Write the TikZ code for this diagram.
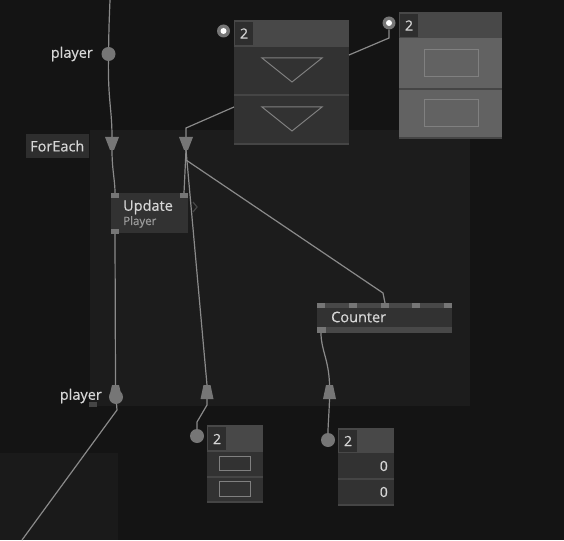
\documentclass[tikz,border=0pt]{standalone}
\usepackage{fontspec}
\setmainfont{Open Sans}[FakeBold=0.5]
\definecolor{bg}{HTML}{141414}
\definecolor{region}{HTML}{1C1C1C}
\definecolor{regionb}{HTML}{1A1A1A}
\definecolor{wire}{HTML}{8A8A8A}
\definecolor{portc}{HTML}{767676}
\definecolor{body}{HTML}{323232}
\definecolor{header}{HTML}{484848}
\definecolor{idx}{HTML}{2E2E2E}
\definecolor{sep}{HTML}{454545}
\definecolor{lightrow}{HTML}{626262}
\definecolor{outl}{HTML}{808080}
\definecolor{txt}{HTML}{D6D6D6}
\definecolor{subtxt}{HTML}{9A9A9A}
\tikzset{
  wireln/.style={draw=wire, line width=1.2pt},
  pin/.style={circle, fill=portc, minimum size=14pt, inner sep=0pt},
  ring/.style={circle, fill=portc, minimum size=13pt, inner sep=0pt},
  lbl/.style={text=txt, font=\fontsize{14.5}{16}\selectfont, inner sep=0pt},
  numlbl/.style={text=txt, font=\fontsize{14}{16}\selectfont, inner sep=0pt},
  boxnode/.style={fill=body, inner sep=0pt, anchor=north west},
  sq/.style={fill=portc},
}
\begin{document}
\begin{tikzpicture}[x=1pt,y=-1pt]
\useasboundingbox (0,0) rectangle (564,540);
\fill[bg] (0,0) rectangle (564,540);
% regions
\fill[region] (90,130) rectangle (470,406);
\fill[regionb] (0,453) rectangle (118,540);

% ---------- top array (triangles) ----------
\node[boxnode, minimum width=115pt, minimum height=125pt] (arrA) at (234,20) {};
\fill[header] (234,20) rectangle (349,47);
\fill[idx] (235,22) rectangle (253,45);
\node[numlbl] at (244,33.5) {2};
\fill[sep] (234,94) rectangle (349,96);
\fill[sep] (234,143) rectangle (349,145);
\draw[outl, line width=1pt] (262,58) -- (322,58) -- (292,82) -- cycle;
\draw[outl, line width=1pt] (262,107) -- (322,107) -- (292,131) -- cycle;
\node[ring] (ringA) at (223.5,31) {};
\fill[white] (ringA) circle (3pt);

% ---------- right array (rectangles) ----------
\node[boxnode, fill=lightrow, minimum width=103pt, minimum height=127pt] (arrB) at (399,12) {};
\fill[header] (399,12) rectangle (502,38);
\fill[idx] (400,14) rectangle (418,37);
\node[numlbl] at (409,25.5) {2};
\fill[sep] (399,88) rectangle (502,90);
\fill[sep] (399,137) rectangle (502,139);
\draw[outl, line width=1pt] (424,50) rectangle (478,77);
\draw[outl, line width=1pt] (424,100) rectangle (478,127);
\node[ring] (ringB) at (389,23) {};
\fill[white] (ringB) circle (3pt);

% ---------- ForEach label ----------
\node[fill=idx, minimum width=63pt, minimum height=24pt, inner sep=0pt, anchor=north west] (fe) at (26,134) {};
\node[lbl, anchor=west] at (30,146) {ForEach};

% ---------- player input ----------
\node[pin] (pIn) at (108.5,54) {};
\node[lbl, anchor=east] at (93,54) {player};
\coordinate (topEnd) at (110,0);

% ---------- trapezoids (inputs of ForEach) ----------
\fill[portc] (105,137) -- (119,137) -- (114,150) -- (110,150) -- cycle;
\coordinate (t1top) at (112,137);
\coordinate (t1bot) at (112,150);
\fill[portc] (179,137) -- (193,137) -- (188,150) -- (184,150) -- cycle;
\coordinate (t2top) at (186,137);
\coordinate (t2bot) at (186,150);

% ---------- Update node ----------
\node[boxnode, minimum width=77pt, minimum height=40pt] (upd) at (111,193) {};
\fill[portc] (111,193) rectangle (119,198);
\fill[portc] (180,193) rectangle (188,198);
\fill[portc] (111,229) rectangle (119,234);
\coordinate (updInL) at (115,193);
\coordinate (updInR) at (184,193);
\coordinate (updOut) at (115,234);
\node[lbl, anchor=west] at (123,207) {Update};
\node[text=subtxt, font=\fontsize{11.5}{13}\selectfont, inner sep=0pt, anchor=west] at (123,222) {Player};
\draw[sep, line width=1.2pt] (193,202) -- (197,207) -- (193,212);

% ---------- Counter node ----------
\node[boxnode, minimum width=135pt, minimum height=30pt] (cnt) at (317,303) {};
\fill[header] (317,303) rectangle (452,308);
\fill[header] (317,327) rectangle (452,333);
\foreach \px in {317,349,381,412,444} {\fill[portc] (\px,303) rectangle (\px+8,308);}
\fill[portc] (317,327) rectangle (326,333);
\coordinate (cntIn) at (385,303);
\coordinate (cntOut) at (321,333);
\node[lbl, anchor=west] at (331,317) {Counter};

% ---------- bottom trapezoids (outputs of ForEach) ----------
\fill[portc] (112,385) -- (119,385) -- (122,398) -- (109,398) -- cycle;
\coordinate (b1top) at (115.5,385);
\node[pin] (pOut) at (116,397) {};
\node[lbl, anchor=east] at (102,396) {player};
\fill[sep] (89,402) rectangle (97,407);
\coordinate (botEnd) at (22,540);

\fill[portc] (203.5,385) -- (210.5,385) -- (213.5,399) -- (200.5,399) -- cycle;
\coordinate (b2top) at (207,385);
\coordinate (b2bot) at (207,399);
\fill[portc] (326,385) -- (333,385) -- (336,399) -- (323,399) -- cycle;
\coordinate (b3top) at (329.5,385);
\coordinate (b3bot) at (329.5,399);

% ---------- bottom small array ----------
\node[boxnode, minimum width=56pt, minimum height=78pt] (arrC) at (207,425) {};
\fill[header] (207,425) rectangle (263,452);
\fill[idx] (208,427) rectangle (226,450);
\node[numlbl] at (217,439) {2};
\fill[sep] (207,476) rectangle (263,478);
\fill[sep] (207,501) rectangle (263,503);
\draw[outl, line width=1pt] (219.5,456.5) rectangle (250.5,470.5);
\draw[outl, line width=1pt] (219.5,481.5) rectangle (250.5,496.5);
\node[pin] (pC) at (197,436) {};

% ---------- counter array ----------
\node[boxnode, minimum width=56pt, minimum height=78pt] (arrD) at (338,428) {};
\fill[header] (338,428) rectangle (394,453);
\fill[idx] (339,430) rectangle (357,452);
\node[numlbl] at (348,441) {2};
\fill[sep] (338,478) rectangle (394,480);
\fill[sep] (338,504) rectangle (394,506);
\node[numlbl, anchor=east] at (388,466) {0};
\node[numlbl, anchor=east] at (388,492) {0};
\node[pin] (pD) at (328,440) {};

% ---------- wires ----------
\draw[wireln] (topEnd) .. controls (109,25) .. (pIn);
\draw[wireln] (pIn) .. controls (108,100) and (112,110) .. (t1top);
\draw[wireln] (t1bot) .. controls (112,170) and (115,180) .. (updInL);
\draw[wireln] (t2bot) -- (updInR);
\draw[wireln] (t2bot) -- (b2top);
\draw[wireln] (186,160) -- (383,293) -- (cntIn);
\draw[wireln] (arrA.west |- 0,107) -- (186,128) -- (t2top);
\draw[wireln] (349,55) -- (389,38) -- (ringB);
\draw[wireln] (updOut) -- (b1top);
\draw[wireln] (pOut) -- (117,410) -- (botEnd);
\draw[wireln] (b2bot) -- (207,405) -- (197,422) -- (pC);
\draw[wireln] (cntOut) .. controls (321,350) and (329,360) .. (b3top);
\draw[wireln] (b3bot) .. controls (329,415) and (328,425) .. (pD);
\end{tikzpicture}
\end{document}
